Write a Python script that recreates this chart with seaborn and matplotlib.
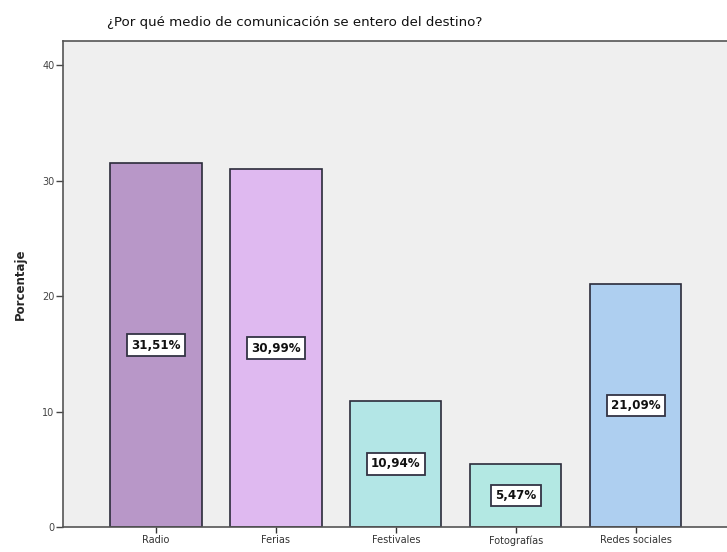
import matplotlib
matplotlib.use("Agg")
import matplotlib.pyplot as plt
import seaborn as sns
import pandas as pd

# Survey results: how respondents heard about the destination
categorias = ["Radio", "Ferias", "Festivales", "Fotografías", "Redes sociales"]
porcentajes = [31.51, 30.99, 10.94, 5.47, 21.09]
etiquetas = ["31,51%", "30,99%", "10,94%", "5,47%", "21,09%"]
colores = ["#b897c8", "#dfb9f0", "#b3e6e6", "#b3e8e3", "#aecff0"]
ticks_y = [0, 10, 20, 30, 40]

sns.set_theme(style="white")
plt.rcParams["font.family"] = ["DejaVu Sans"]

df = pd.DataFrame({"categoria": categorias, "porcentaje": porcentajes})

fig = plt.figure(figsize=(7.27, 5.52), dpi=100)
ax = fig.add_axes([0.0867, 0.0453, 0.9133, 0.8804])
ax.set_facecolor("#efefef")

sns.barplot(data=df, x="categoria", y="porcentaje", hue="categoria",
            palette=colores, legend=False, width=0.76,
            edgecolor="#2b2b3a", linewidth=1.2, saturation=1, ax=ax)

for i, (v, txt) in enumerate(zip(porcentajes, etiquetas)):
    ax.text(i, v / 2, txt, ha="center", va="center", fontsize=8.6,
            fontweight="bold", color="#111111",
            bbox=dict(boxstyle="square,pad=0.35", facecolor="white",
                      edgecolor="#333344", linewidth=1.3))

ax.set_xlim(-0.775, 4.76)
ax.set_ylim(0, 42.1)
ax.set_yticks(ticks_y)
ax.set_yticklabels([str(t) for t in ticks_y], fontsize=7, color="#444444")
ax.tick_params(axis="x", labelsize=7, colors="#333333", length=4, width=1,
               direction="out", bottom=True, pad=2)
ax.tick_params(axis="y", length=5, width=1, direction="out", left=True,
               colors="#444444", pad=1)
ax.set_xlabel("")
ax.set_ylabel("Porcentaje", fontsize=8.5, fontweight="bold", labelpad=11)

for side in ["left", "bottom", "top"]:
    ax.spines[side].set_visible(True)
    ax.spines[side].set_color("#555555")
    ax.spines[side].set_linewidth(1.2)
ax.spines["right"].set_visible(False)

fig.text(0.147, 0.96, "¿Por qué medio de comunicación se entero del destino?",
         fontsize=9.6, ha="left", va="center", color="#111111")

fig.savefig("out.png", dpi=100)
